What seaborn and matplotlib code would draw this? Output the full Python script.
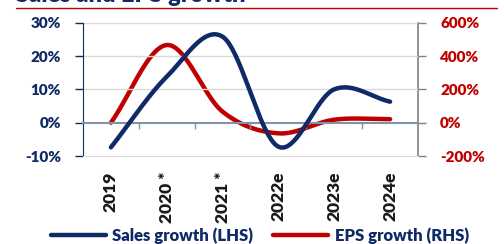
import numpy as np
import matplotlib
matplotlib.use("Agg")
import matplotlib.pyplot as plt
import seaborn as sns
from matplotlib.lines import Line2D

years = ["2019", "2020 *", "2021 *", "2022e", "2023e", "2024e"]
sales_growth = [-7.4, 13.8, 25.8, -7.2, 10.0, 6.3]   # % (LHS)
eps_growth = [0, 466, 66, -64, 18, 21]               # % (RHS)

navy = "#0f2a66"
red = "#c00000"


def smooth(vals, n=40):
    # catmull-rom curve through the points, like Excel's smoothed line
    p = np.asarray(vals, dtype=float)
    ext = np.concatenate([[2 * p[0] - p[1]], p, [2 * p[-1] - p[-2]]])
    xs, ys = [], []
    for i in range(len(p) - 1):
        p0, p1, p2, p3 = ext[i], ext[i + 1], ext[i + 2], ext[i + 3]
        t = np.linspace(0, 1, n, endpoint=False)
        m1 = (p2 - p0) / 2
        m2 = (p3 - p1) / 2
        h00 = 2 * t**3 - 3 * t**2 + 1
        h10 = t**3 - 2 * t**2 + t
        h01 = -2 * t**3 + 3 * t**2
        h11 = t**3 - t**2
        xs.append(i + t)
        ys.append(h00 * p1 + h10 * m1 + h01 * p2 + h11 * m2)
    xs.append([len(p) - 1])
    ys.append([p[-1]])
    return np.concatenate(xs), np.concatenate(ys)


sns.set_style("white")
plt.rcParams["font.family"] = ["Lato", "DejaVu Sans"]
W = "heavy"

fig = plt.figure(figsize=(5.04, 2.44), dpi=100)
ax = fig.add_axes([83 / 504, 1 - 156 / 244, (418 - 83) / 504, (156 - 22.7) / 244])
ax2 = ax.twinx()

sx, sy = smooth(sales_growth)
ex, ey = smooth(eps_growth)
sns.lineplot(x=sx, y=sy, ax=ax, color=navy, lw=3.2, sort=False, zorder=4)
sns.lineplot(x=ex, y=ey, ax=ax2, color=red, lw=3.2, sort=False, zorder=3)

ax.set_zorder(ax2.get_zorder() + 1)
ax.patch.set_visible(False)

# spines first: moving a spine resets the ticks of its axis
ax.spines["top"].set_position(("data", 0))
ax.spines["top"].set_color("#7f93ad")
ax.spines["top"].set_linewidth(1.5)
ax.spines["bottom"].set_color("#d9d9d9")
ax.spines["left"].set_color(navy)
ax.spines["right"].set_visible(False)
for s in ["top", "left", "bottom"]:
    ax2.spines[s].set_visible(False)
ax2.spines["right"].set_color("#808080")
ax2.spines["right"].set_linewidth(1.2)

ax.set_xlim(-0.5, len(years) - 0.5)
ax.set_ylim(-10, 30)
ax2.set_ylim(-200, 600)
ax.set_yticks([-10, 0, 10, 20, 30])
ax2.set_yticks([-200, 0, 200, 400, 600])
ax.set_yticklabels([f"{v}%" for v in [-10, 0, 10, 20, 30]], color=navy, fontsize=11, fontweight=W)
ax2.set_yticklabels([f"{v}%" for v in [-200, 0, 200, 400, 600]], color=red, fontsize=11, fontweight=W)

ax.set_xticks(range(len(years)))
ax.set_xticks(np.arange(0.5, len(years) - 0.5, 1), minor=True)
ax.tick_params(axis="x", which="major", length=0, pad=11, bottom=True, top=False)
ax.tick_params(axis="x", which="minor", top=True, bottom=False, direction="in",
               length=4, color="#7f93ad", width=1)
ax.tick_params(axis="y", which="major", left=True, length=6, color=navy, width=1, pad=10)
ax2.tick_params(axis="y", right=True, length=6, color="#808080", width=1, pad=10)
ax.set_xticklabels(years, rotation=90, va="top", ha="center", fontsize=12.5,
                   fontweight=W, color="#1a1a1a")

for v in [10, 20, 30]:
    ax.axhline(v, color="#d9d9d9", lw=1, zorder=0)

ax.set_xlabel("")
ax.set_ylabel("")
ax2.set_ylabel("")

fig.text(16 / 504, 1 - 2.5 / 244, "Sales and EPS growth", fontsize=17, fontweight=W,
         color=navy, va="baseline", ha="left")
fig.add_artist(Line2D([16 / 504, 497 / 504], [1 - 8 / 244, 1 - 8 / 244],
                      color=red, lw=1, transform=fig.transFigure))

handles = [Line2D([], [], color=navy, lw=3.2), Line2D([], [], color=red, lw=3.2)]
fig.legend(handles, ["Sales growth (LHS)", "EPS growth (RHS)"], loc="center",
           bbox_to_anchor=(260 / 504, 1 - 236 / 244), ncol=2, frameon=False,
           prop={"size": 12, "weight": W}, labelcolor=navy, handlelength=3.3,
           columnspacing=1.2, handletextpad=0.4)

fig.savefig("out.png", dpi=100)
